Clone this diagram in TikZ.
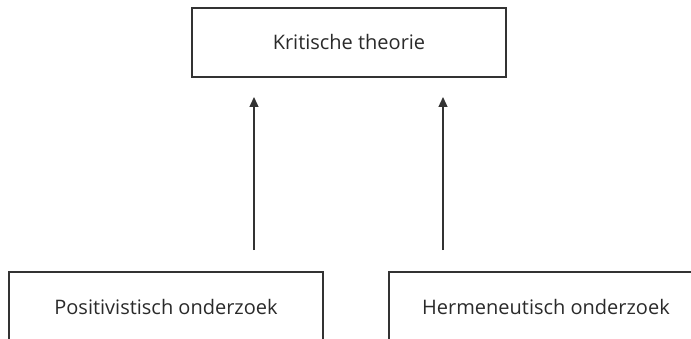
\documentclass[tikz,border=0pt]{standalone}
\usepackage{fontspec}
\setmainfont{Open Sans}
\usetikzlibrary{arrows.meta}
\definecolor{linegray}{HTML}{333333}
\definecolor{textgray}{HTML}{2A2A2A}
\begin{document}
\begin{tikzpicture}[x=1pt,y=1pt,
  box/.style={draw=linegray, line width=1.3pt, minimum width=314pt, minimum height=69pt, inner sep=0pt, text=textgray, font=\fontsize{20}{24}\selectfont},
  conn/.style={draw=linegray, line width=1.3pt, -{Triangle[length=10pt,width=9pt]}}]
\useasboundingbox (0,0) rectangle (691,338);
\node[box] (top) at (349,295.5) {Kritische theorie};
\node[box] (left) at (166,31.5) {Positivistisch onderzoek};
\node[box] (right) at (546,31.5) {Hermeneutisch onderzoek};
\coordinate (s1) at (254,88);
\coordinate (e1) at (254,241);
\coordinate (s2) at (443,88);
\coordinate (e2) at (443,241);
\draw[conn] (s1) -- (e1);
\draw[conn] (s2) -- (e2);
\end{tikzpicture}
\end{document}
